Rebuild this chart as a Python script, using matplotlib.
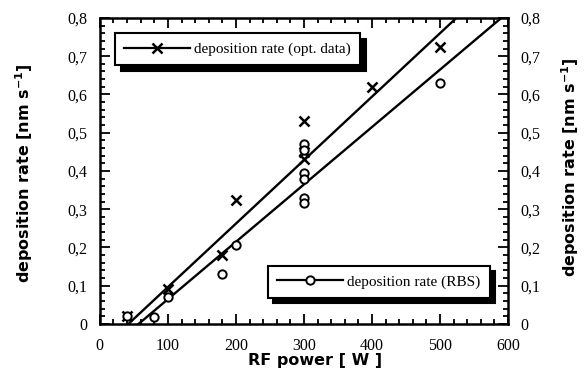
import numpy as np
import matplotlib
matplotlib.use("Agg")
import matplotlib.pyplot as plt
from matplotlib.lines import Line2D
from matplotlib.ticker import MultipleLocator, FuncFormatter

# deposition rate from optical data (x markers)
opt_power = [40, 100, 180, 200, 300, 300, 300, 400, 500]
opt_rate = [0.02, 0.09, 0.18, 0.325, 0.53, 0.45, 0.43, 0.62, 0.725]

# deposition rate from RBS (circles)
rbs_power = [40, 80, 100, 180, 200, 300, 300, 300, 300, 300, 300, 500]
rbs_rate = [0.02, 0.018, 0.07, 0.13, 0.205, 0.47, 0.455, 0.395, 0.38, 0.33, 0.315, 0.63]

# fitted lines (end points)
opt_fit_x = [42, 524]
opt_fit_y = [0.0, 0.8]
rbs_fit_x = [57, 590]
rbs_fit_y = [0.0, 0.8]

serif = "Liberation Serif"

fig = plt.figure(figsize=(5.84, 3.74), dpi=100)
ax = fig.add_axes([0.171, 0.134, 0.699, 0.818])

ax.plot(opt_fit_x, opt_fit_y, color="black", lw=1.7)
ax.plot(rbs_fit_x, rbs_fit_y, color="black", lw=1.7)
ax.plot(opt_power, opt_rate, ls="none", marker="x", ms=7, mew=1.8, color="black")
ax.plot(rbs_power, rbs_rate, ls="none", marker="o", ms=6, mew=1.4,
        mfc="white", mec="black")

ax.set_xlim(0, 600)
ax.set_ylim(0, 0.8)

fmt = FuncFormatter(lambda v, p: "0" if abs(v) < 1e-9 else ("%.1f" % v).replace(".", ","))
ax.xaxis.set_major_locator(MultipleLocator(100))
ax.xaxis.set_minor_locator(MultipleLocator(20))
ax.yaxis.set_major_locator(MultipleLocator(0.1))
ax.yaxis.set_minor_locator(MultipleLocator(0.02))
ax.yaxis.set_major_formatter(fmt)
ax.tick_params(which="both", direction="in", top=True, right=True,
               labelright=True, width=1.3, labelsize=11.5)
ax.tick_params(axis="x", pad=10)
ax.tick_params(axis="y", pad=9)
ax.tick_params(which="major", length=7)
ax.tick_params(which="minor", length=3.5)
for t in ax.xaxis.get_major_ticks():
    t.label1.set_family(serif)
for t in ax.yaxis.get_major_ticks():
    t.label1.set_family(serif)
    t.label2.set_family(serif)
for s in ax.spines.values():
    s.set_linewidth(1.8)

ylab = "deposition rate [nm s$^{\\mathbf{-1}}$]"
fig.text((250 + 380) / 2 / 584, 1 - 360 / 374, "RF power [ W ]", fontsize=11.5,
         fontweight="bold", ha="center", va="center")
fig.text(24 / 584, 1 - 173 / 374, ylab, rotation=90, fontsize=11.5, fontweight="bold",
         ha="center", va="center")
fig.text(570 / 584, 1 - 167 / 374, ylab, rotation=90, fontsize=11.5, fontweight="bold",
         ha="center", va="center")

h_opt = Line2D([], [], color="black", lw=1.6, marker="x", ms=7, mew=1.8)
h_rbs = Line2D([], [], color="black", lw=1.6, marker="o", ms=6, mew=1.4, mfc="white")
shadow = {"color": "black", "alpha": 1, "ox": 4, "oy": -4}

leg1 = ax.legend([h_opt], ["deposition rate (opt. data)"], loc="upper left",
                 bbox_to_anchor=(0.037, 0.95), fancybox=False, shadow=shadow,
                 edgecolor="black", framealpha=1, prop={"family": serif, "size": 11},
                 handlelength=4.3, handletextpad=0.3, borderpad=0.6, borderaxespad=0)
leg1.get_frame().set_linewidth(1.5)
ax.add_artist(leg1)
leg2 = ax.legend([h_rbs], ["deposition rate (RBS)"], loc="lower right",
                 bbox_to_anchor=(0.955, 0.085), fancybox=False, shadow=shadow,
                 edgecolor="black", framealpha=1, prop={"family": serif, "size": 11},
                 handlelength=4.3, handletextpad=0.3, borderpad=0.6, borderaxespad=0)
leg2.get_frame().set_linewidth(1.5)

fig.savefig("out.png", dpi=100)
